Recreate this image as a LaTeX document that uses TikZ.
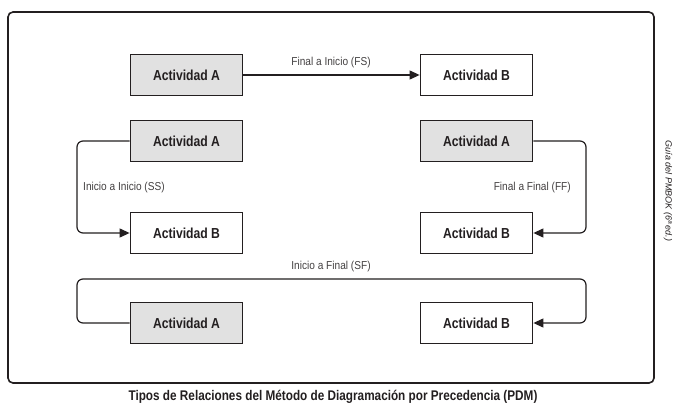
\documentclass[tikz,border=0pt]{standalone}
\usepackage{fontspec}
\setmainfont{Liberation Sans}
\newfontfamily\condfont{Liberation Sans}[FakeStretch=0.84]
\newfontfamily\lblfont{Liberation Sans}[FakeStretch=0.88]
\usetikzlibrary{arrows.meta}
\definecolor{ink}{HTML}{231F20}
\definecolor{boxgray}{HTML}{E1E1E1}
\begin{document}
\begin{tikzpicture}[x=1pt,y=-1pt,
  actbox/.style={draw=ink, line width=1.8pt, minimum width=112pt, minimum height=41pt, inner sep=0pt,
     font=\condfont\bfseries\fontsize{14.5}{16}\selectfont, text=ink},
  abox/.style={actbox, fill=boxgray},
  bbox/.style={actbox, fill=white},
  conn/.style={draw=ink, line width=1.2pt, rounded corners=6pt, -{Triangle[length=10pt,width=9pt]}},
  lbl/.style={font=\lblfont\fontsize{11.5}{13}\selectfont, text=ink!85, inner sep=0pt}]
\useasboundingbox (0,0) rectangle (680,410);
\fill[white] (0,0) rectangle (680,410);
% frame
\draw[ink, line width=1.6pt, rounded corners=5pt] (8,12) rectangle (654,383);
% boxes
\node[abox] (a1) at (186.5,75) {Actividad A};
\node[bbox] (b1) at (476.5,75) {Actividad B};
\node[abox] (a2) at (186.5,141) {Actividad A};
\node[bbox] (b2) at (186.5,233) {Actividad B};
\node[abox] (a3) at (476.5,141) {Actividad A};
\node[bbox] (b3) at (476.5,233) {Actividad B};
\node[abox] (a4) at (186.5,323) {Actividad A};
\node[bbox] (b4) at (476.5,323) {Actividad B};
% helper coordinates
\coordinate (lx) at (77,0);
\coordinate (rx) at (586,0);
\coordinate (topy) at (0,279);
% connectors
\draw[conn] (a1.east) -- (b1.west);
\draw[conn] (a2.west) -- (a2.west -| lx) -- (b2.west -| lx) -- (b2.west);
\draw[conn] (a3.east) -- (a3.east -| rx) -- (b3.east -| rx) -- (b3.east);
\draw[conn] (a4.west) -- (a4.west -| lx) -- (topy -| lx) -- (topy -| rx) -- (b4.east -| rx) -- (b4.east);
% labels
\node[lbl] (lfs) at (331,63) {Final a Inicio (FS)};
\node[lbl, anchor=west] (lss) at (83,188) {Inicio a Inicio (SS)};
\node[lbl, anchor=east] (lff) at (571,188) {Final a Final (FF)};
\node[lbl] (lsf) at (331,267) {Inicio a Final (SF)};
% caption
\node[font=\condfont\bfseries\fontsize{14}{16}\selectfont, text=ink] (cap) at (333,397) {Tipos de Relaciones del Método de Diagramación por Precedencia (PDM)};
% side note
\node[font=\itshape\fontsize{9}{10}\selectfont, text=ink, rotate=-90] (side) at (668,191) {Guía del PMBOK (6ª ed.)};
\end{tikzpicture}
\end{document}
